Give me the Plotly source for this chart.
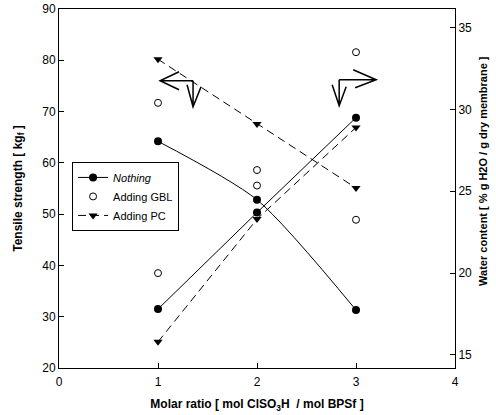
import plotly.graph_objects as go

# ---- data ----
molar_ratio = [1, 2, 3]
tensile_nothing = [64.2, 52.8, 31.3]
tensile_gbl = [71.7, 58.6, 48.9]
tensile_pc = [80.2, 67.6, 55.1]
water_nothing = [17.8, 23.7, 29.5]
water_gbl = [20.0, 25.35, 33.5]
water_pc = [15.8, 23.3, 28.9]

x_ticks = [0, 1, 2, 3, 4]
left_ticks = [20, 30, 40, 50, 60, 70, 80, 90]
right_ticks = [15, 20, 25, 30, 35]

# arrow corners (x in molar ratio, y on tensile axis)
arrow_left_corner = (1.354, 76.0)
arrow_right_corner = (2.83, 76.2)

FONT = "Liberation Sans, Arial, sans-serif"
BLACK = "black"

fig = go.Figure()

# Tensile strength (left axis)
fig.add_trace(go.Scatter(x=molar_ratio, y=tensile_nothing, mode="lines+markers",
                         name="<i>Nothing</i>", line=dict(color=BLACK, width=1, shape="spline", smoothing=0.7),
                         marker=dict(symbol="circle", size=8, color=BLACK)))
fig.add_trace(go.Scatter(x=molar_ratio, y=tensile_gbl, mode="markers", name="Adding GBL",
                         marker=dict(symbol="circle-open", size=7, color=BLACK, line=dict(width=1, color=BLACK))))
fig.add_trace(go.Scatter(x=molar_ratio, y=tensile_pc, mode="lines+markers", name="Adding PC",
                         line=dict(color=BLACK, width=1, dash="8px,5px"),
                         marker=dict(symbol="triangle-down", size=8, color=BLACK)))

# Water content (right axis)
fig.add_trace(go.Scatter(x=molar_ratio, y=water_nothing, mode="lines+markers", yaxis="y2",
                         showlegend=False, line=dict(color=BLACK, width=1),
                         marker=dict(symbol="circle", size=8, color=BLACK)))
fig.add_trace(go.Scatter(x=molar_ratio, y=water_gbl, mode="markers", yaxis="y2", showlegend=False,
                         marker=dict(symbol="circle-open", size=7, color=BLACK, line=dict(width=1, color=BLACK))))
fig.add_trace(go.Scatter(x=molar_ratio, y=water_pc, mode="lines+markers", yaxis="y2", showlegend=False,
                         line=dict(color=BLACK, width=1, dash="8px,5px"),
                         marker=dict(symbol="triangle-down", size=8, color=BLACK)))

# L-shaped arrows (pixel paths relative to a data anchor)
left_path = "M0,0 L-33,0 M-14,9 L-33,0 L-14,-9 M0,0 L0,-26 M-6,-4 L0,-26 L8,-6"
right_path = "M0,0 L37,0 M14,10 L37,0 L16,-8 M0,0 L0,-26 M-7,-5 L0,-26 L7,-7"
for corner, path in ((arrow_left_corner, left_path), (arrow_right_corner, right_path)):
    fig.add_shape(type="path", xref="x", yref="y", xsizemode="pixel", ysizemode="pixel",
                  xanchor=corner[0], yanchor=corner[1], path=path,
                  line=dict(color=BLACK, width=1.5))

fig.update_layout(
    width=496, height=415,
    margin=dict(l=59, r=41, t=9, b=47),
    paper_bgcolor="white", plot_bgcolor="white",
    font=dict(family=FONT, size=12, color=BLACK),
    xaxis=dict(range=[0, 4], tickvals=x_ticks, ticks="inside", ticklen=5, tickcolor=BLACK,
               showline=True, linecolor=BLACK, linewidth=1, mirror=True, showgrid=False, zeroline=False,
               tickfont=dict(size=12), ticklabelstandoff=3, automargin=False,
               title=dict(text="<b>Molar ratio [ mol ClSO<sub>3</sub>H  / mol BPSf ]</b>",
                          font=dict(size=12), standoff=11)),
    yaxis=dict(range=[20, 90], tickvals=left_ticks, ticks="inside", ticklen=5, tickcolor=BLACK,
               showline=True, linecolor=BLACK, linewidth=1, showgrid=False, zeroline=False,
               tickfont=dict(size=12), automargin=False,
               title=dict(text="<b>Tensile strength [ kg<sub>f</sub> ]</b>", font=dict(size=12), standoff=17)),
    yaxis2=dict(range=[14.2, 36.14], tickvals=right_ticks, ticks="inside", ticklen=5, tickcolor=BLACK,
                overlaying="y", side="right", showline=True, linecolor=BLACK, linewidth=1,
                showgrid=False, zeroline=False, tickfont=dict(size=12), automargin=False),
    legend=dict(x=0.033, y=0.574, xanchor="left", yanchor="top", bordercolor=BLACK, borderwidth=1,
                bgcolor="white", font=dict(size=11), itemwidth=30, tracegroupgap=0),
    showlegend=True,
)

fig.add_annotation(text="<b>Water content [ % g H2O / g dry membrane ]</b>", xref="paper", yref="paper",
                   x=1, y=0.549, xshift=28, textangle=-90, showarrow=False,
                   font=dict(size=11), xanchor="center", yanchor="middle")

fig.write_html("out.html")
